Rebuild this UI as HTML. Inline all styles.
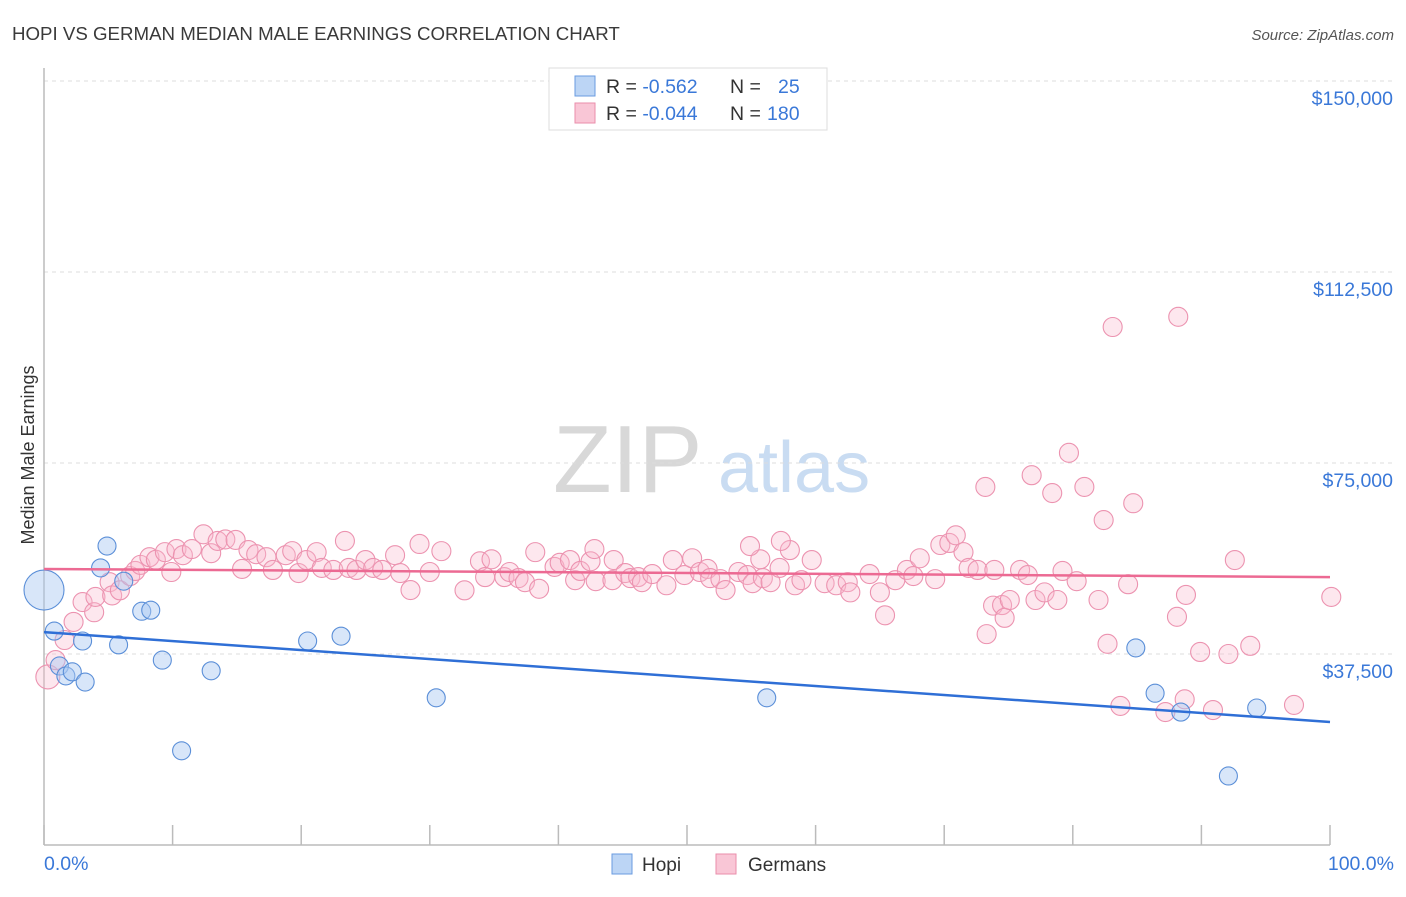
<!DOCTYPE html>
<html><head><meta charset="utf-8"><style>
body{margin:0;background:#fff;font-family:"Liberation Sans",sans-serif;}
svg text{font-family:"Liberation Sans",sans-serif;}
</style></head><body>
<svg id="chart" width="1406" height="892" viewBox="0 0 1406 892">
<text x="12" y="40" font-size="18.7" fill="#3a3a3a">HOPI VS GERMAN MEDIAN MALE EARNINGS CORRELATION CHART</text>
<text x="1394" y="40" font-size="15" fill="#555" font-style="italic" text-anchor="end">Source: ZipAtlas.com</text>
<g>
<text x="553" y="492" font-size="96" font-family="Liberation Serif,serif" fill="#d8d8d8">ZIP</text>
<text x="718" y="492" font-size="72" fill="#c9dcf2">atlas</text>
</g>
<g id="grid"></g>
<g id="axes"></g>
<text transform="translate(34,455) rotate(-90)" font-size="18" fill="#333" text-anchor="middle">Median Male Earnings</text>
<g id="pts"></g>
<g id="lines"></g>
<g>
<rect x="549" y="68" width="278" height="62" fill="#fff" stroke="#ddd"/>
<rect x="575" y="76" width="20" height="20" fill="#bcd5f5" stroke="#6a9be0"/>
<rect x="575" y="103" width="20" height="20" fill="#f9c6d6" stroke="#ea8eab"/>
<text x="606" y="93" font-size="19.5" fill="#333">R = <tspan fill="#3a78d8">-0.562</tspan><tspan x="730">N = </tspan><tspan x="778" fill="#3a78d8">25</tspan></text>
<text x="606" y="120" font-size="19.5" fill="#333">R = <tspan fill="#3a78d8">-0.044</tspan><tspan x="730">N = </tspan><tspan x="767" fill="#3a78d8">180</tspan></text>
</g>
<g>
<rect x="612" y="854" width="20" height="20" fill="#bcd5f5" stroke="#6a9be0"/>
<text x="642" y="871" font-size="19" fill="#333">Hopi</text>
<rect x="716" y="854" width="20" height="20" fill="#f9c6d6" stroke="#ea8eab"/>
<text x="748" y="871" font-size="19" fill="#333">Germans</text>
</g>
<text x="44" y="870" font-size="19.5" fill="#3a78d8">0.0%</text>
<text x="1394" y="870" font-size="19.5" fill="#3a78d8" text-anchor="end">100.0%</text>
</svg>
<script>
const yTicks=[150000,112500,75000,37500];
const yTickLabels=["$150,000","$112,500","$75,000","$37,500"];
const hopiX=[0,0.8,1.2,1.7,2.2,3.0,3.2,4.4,4.9,5.8,6.2,7.6,8.3,9.2,10.7,13.0,20.5,23.1,30.5,56.2,84.9,86.4,88.4,92.1,94.3];
const hopiY=[50060,42000,35150,33200,34000,40050,32000,54400,58700,39300,51800,45900,46100,36300,18500,34200,40050,41000,28900,28900,38700,29800,26100,13550,26900];
const hopiR=[20,9,9,9,9,9,9,9,9,9,9,9,9,9,9,9,9,9,9,9,9,9,9,9,9];
const gerX=[0.3,0.9,1.6,2.3,3,3.9,4.0,5.1,5.3,5.9,6.7,7.1,7.5,8.2,8.7,9.4,9.9,10.3,10.8,11.5,12.4,13.0,13.5,14.1,14.9,15.4,15.9,16.5,17.3,17.8,18.8,19.3,19.8,20.4,21.2,21.6,22.5,23.4,23.7,24.3,25.0,25.6,26.3,27.3,27.7,28.5,29.2,30.0,30.9,
32.7,33.9,34.3,34.8,35.8,36.2,36.9,37.4,38.2,38.5,39.7,40.1,40.9,41.3,41.7,42.5,42.9,44.2,44.3,45.2,45.6,46.2,46.5,47.3,48.4,48.9,49.8,50.4,51.0,51.6,51.8,52.6,53.0,54.0,54.7,55.1,55.7,55.9,56.5,57.2,58.0,58.4,58.9,59.7,60.7,61.6,62.5,62.7,64.2,65.0,65.4,66.2,67.1,67.6,68.1,69.3,69.7,70.4,54.9,57.3,42.8,
70.9,71.5,71.9,72.6,73.2,73.9,73.3,73.8,74.5,74.7,75.1,75.9,76.5,76.8,77.1,77.8,78.4,78.8,79.2,79.7,80.3,80.9,82.0,82.4,82.7,83.1,83.7,84.3,84.7,87.2,88.1,88.2,88.7,88.8,89.9,90.9,92.1,92.6,93.8,97.2,100.1];
const gerY=[33000,36300,40250,43800,47700,45700,48700,51600,49000,50000,52800,53800,55000,56500,56000,57500,53600,58100,56900,58100,61000,57300,59700,60000,59900,54200,57900,57100,56500,54000,56900,57700,53400,55950,57500,54400,54000,59700,54400,54000,55950,54400,54000,56900,53400,50060,59100,53600,57700,
50000,55700,52600,56100,52600,53600,52400,51600,57500,50300,54600,55400,55950,52000,53800,55700,51800,52000,55950,53400,52400,52600,51600,53200,51000,55950,53000,56300,53600,54200,52400,52200,50060,53600,53000,51400,56100,52400,51600,54400,57900,51000,52000,55950,51400,51000,51600,49600,53200,49600,45100,52000,54000,52800,56300,52200,58900,59300,58700,59700,58100,
60800,57500,54400,54000,70300,54000,41400,47000,47100,44600,48100,54000,53000,72600,48100,49600,69100,48100,53800,77000,51800,70300,48100,63800,39500,101700,27300,51200,67100,26100,44800,103700,28600,49100,37900,26500,37500,55950,39100,27500,48700];
const hopiFit=[41800,24150];
const gerFit=[54200,52600];
const NS="http://www.w3.org/2000/svg";
const X=p=>44+p*12.86;
const Y=v=>654-(v-37500)*191/37500;
function mk(t,a,parent){const e=document.createElementNS(NS,t);for(const k in a)e.setAttribute(k,a[k]);parent.appendChild(e);return e;}
const grid=document.getElementById('grid'),axes=document.getElementById('axes'),pts=document.getElementById('pts'),lines=document.getElementById('lines');
yTicks.forEach((v,i)=>{
 const l=mk('line',{x1:44,x2:1394,y1:Y(v),y2:Y(v),stroke:'#ddd','stroke-dasharray':'4,4'},grid);
 
 
 const t=mk('text',{x:1393,y:Y(v)+24,'font-size':19.5,fill:'#3a78d8','text-anchor':'end'},grid);
 t.textContent=yTickLabels[i];
 
 
});
const ya=mk('line',{x1:44,x2:44,y1:68,y2:845,stroke:'#bbb','stroke-width':1.5},axes);


const xa=mk('line',{x1:44,x2:1330,y1:845,y2:845,stroke:'#bbb','stroke-width':1.5},axes);


for(let k=0;k<=10;k++){const t=mk('line',{x1:X(k*10),x2:X(k*10),y1:825,y2:845,stroke:'#bbb','stroke-width':1.5},axes);
 
 }
gerX.forEach((x,i)=>{const c=mk('circle',{cx:X(x),cy:Y(gerY[i]),r:i==0?12:9.5,fill:'rgba(248,186,205,0.35)',stroke:'#ec93b0','stroke-width':1.1},pts);
 
 });
hopiX.forEach((x,i)=>{const c=mk('circle',{cx:X(x),cy:Y(hopiY[i]),r:hopiR[i],fill:'rgba(168,200,242,0.45)',stroke:'#5b8fd8','stroke-width':1.1},pts);
 
 });
const hl=mk('line',{x1:X(0),x2:X(100),y1:Y(hopiFit[0]),y2:Y(hopiFit[1]),stroke:'#2f6fd6','stroke-width':2.5},lines);


const gl=mk('line',{x1:X(0),x2:X(100),y1:Y(gerFit[0]),y2:Y(gerFit[1]),stroke:'#ec6a93','stroke-width':2.5},lines);


</script>
</body></html>
